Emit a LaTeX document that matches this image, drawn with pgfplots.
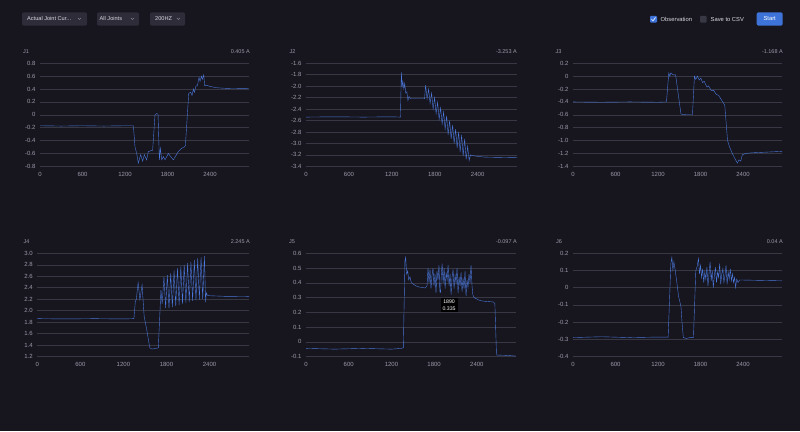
\documentclass[border=0pt]{standalone}
\usepackage{fontspec}
\setmainfont{Liberation Sans}
\usepackage{pgfplots}
\pgfplotsset{compat=1.18}
\definecolor{bgc}{HTML}{17161F}
\definecolor{gridc}{HTML}{383845}
\definecolor{txtc}{HTML}{9A9AA8}
\definecolor{linec}{HTML}{4A78DC}
\definecolor{btnc}{HTML}{2D2C38}
\definecolor{bluec}{HTML}{3E74DA}
\definecolor{lightc}{HTML}{DADAE2}

\pgfplotsset{
  jpanel/.style={
    scale only axis, anchor=south west,
    xmin=0, xmax=2950,
    axis line style={draw=none},
    tick style={draw=none},
    ymajorgrids, grid style={gridc, line width=0.5pt},
    xtick={0,600,1200,1800,2400},
    xticklabels={0,600,1200,1800,2400},
    xticklabel style={font=\fontsize{6}{7}\selectfont, text=txtc, yshift=-2pt},
    yticklabel style={font=\fontsize{6}{7}\selectfont, text=txtc, xshift=-1pt},
    /pgf/number format/assume math mode=true,
    /pgf/number format/1000 sep={},
    no markers,
    cycle list={{linec, line width=0.65pt, mark=none}},
  }
}
\newcommand{\ptitle}[2]{%
  \node[anchor=west, text=txtc, font=\fontsize{5.5}{6}\selectfont, inner sep=0pt] at #1 {#2};}
\newcommand{\pval}[2]{%
  \node[anchor=east, text=txtc, font=\fontsize{5.5}{6}\selectfont, inner sep=0pt] at #1 {#2};}

\begin{document}
\begin{tikzpicture}
\useasboundingbox (0,0) rectangle (800pt,431pt);
\fill[bgc] (0,0) rectangle (800pt,431pt);

% top bar
\fill[btnc, rounded corners=2pt] (22pt,418.7pt) rectangle (87pt,405.3pt);
\node[anchor=west, text=lightc, font=\fontsize{5.6}{6}\selectfont, inner sep=0pt] at (27pt,412pt) {Actual Joint Cur...};
\draw[txtc, line width=0.4pt] (77.8pt,413pt) -- (79.3pt,411.5pt) -- (80.8pt,413pt);
\fill[btnc, rounded corners=2pt] (97pt,418.7pt) rectangle (139pt,405.3pt);
\node[anchor=west, text=lightc, font=\fontsize{5.6}{6}\selectfont, inner sep=0pt] at (99.5pt,412pt) {All Joints};
\draw[txtc, line width=0.4pt] (130.8pt,413pt) -- (132.3pt,411.5pt) -- (133.8pt,413pt);
\fill[btnc, rounded corners=2pt] (150pt,418.7pt) rectangle (185pt,405.3pt);
\node[anchor=west, text=lightc, font=\fontsize{5.6}{6}\selectfont, inner sep=0pt] at (155pt,412pt) {200HZ};
\draw[txtc, line width=0.4pt] (176.8pt,413pt) -- (178.3pt,411.5pt) -- (179.8pt,413pt);

\fill[bluec, rounded corners=1pt] (650pt,415.2pt) rectangle (657pt,408.3pt);
\draw[white, line width=0.6pt] (651.5pt,411.8pt) -- (653pt,410.2pt) -- (655.6pt,413.6pt);
\node[anchor=west, text=lightc, font=\fontsize{5.8}{6}\selectfont, inner sep=0pt] at (660.5pt,411.8pt) {Observation};
\fill[gridc, rounded corners=1pt] (700pt,415.2pt) rectangle (706.7pt,408.3pt);
\node[anchor=west, text=lightc, font=\fontsize{5.8}{6}\selectfont, inner sep=0pt] at (710.5pt,411.8pt) {Save to CSV};
\fill[bluec, rounded corners=2pt] (756.7pt,418.7pt) rectangle (782.7pt,405.3pt);
\node[text=white, font=\fontsize{5.8}{6}\selectfont, inner sep=0pt] at (769.7pt,412pt) {Start};

% panel titles
\ptitle{(23pt,379.3pt)}{J1}     \pval{(250pt,379.3pt)}{0.405 A}
\ptitle{(289.5pt,379.3pt)}{J2}  \pval{(517pt,379.3pt)}{-3.253 A}
\ptitle{(555.5pt,379.3pt)}{J3}  \pval{(783pt,379.3pt)}{-1.168 A}
\ptitle{(23.5pt,189.3pt)}{J4}   \pval{(250pt,189.3pt)}{2.245 A}
\ptitle{(289pt,189.3pt)}{J5}    \pval{(517pt,189.3pt)}{-0.097 A}
\ptitle{(556pt,189.3pt)}{J6}    \pval{(783pt,189.3pt)}{0.04 A}

% J1
\begin{axis}[jpanel, at={(40pt,264.7pt)}, width=209pt, height=103pt,
  ymin=-0.8, ymax=0.8,
  ytick={-0.8,-0.6,-0.4,-0.2,0,0.2,0.4,0.6,0.8},
  yticklabels={-0.8,-0.6,-0.4,-0.2,0,0.2,0.4,0.6,0.8}]
\addplot coordinates {(0,-0.17) (300,-0.175) (600,-0.17) (900,-0.175) (1200,-0.17) (1318,-0.17)
 (1341,-0.50) (1365,-0.60) (1388,-0.75) (1421,-0.62) (1449,-0.72) (1472,-0.62) (1505,-0.70)
 (1529,-0.57) (1560,-0.56) (1590,-0.55) (1623,0.00) (1647,0.02) (1666,0.01) (1685,-0.70)
 (1699,-0.52) (1718,-0.70) (1741,-0.65) (1765,-0.70) (1812,-0.60) (1845,-0.65) (1882,-0.70)
 (1915,-0.64) (1953,-0.57) (2000,-0.52) (2037,-0.50) (2052,-0.48) (2099,0.33) (2127,0.35)
 (2146,0.30) (2165,0.40) (2179,0.35) (2202,0.45) (2221,0.45) (2245,0.58) (2259,0.52)
 (2278,0.60) (2292,0.55) (2311,0.62) (2325,0.45) (2353,0.46) (2400,0.44) (2494,0.42)
 (2635,0.41) (2950,0.405)};
\end{axis}

% J2
\begin{axis}[jpanel, at={(306pt,264.7pt)}, width=211pt, height=103pt,
  ymin=-3.4, ymax=-1.6,
  ytick={-3.4,-3.2,-3.0,-2.8,-2.6,-2.4,-2.2,-2.0,-1.8,-1.6},
  yticklabels={-3.4,-3.2,-3.0,-2.8,-2.6,-2.4,-2.2,-2.0,-1.8,-1.6}]
\addplot coordinates {(0,-2.54) (400,-2.535) (800,-2.54) (1200,-2.535) (1320,-2.54)
 (1333,-1.76) (1345,-2.00) (1355,-1.92) (1368,-2.05) (1380,-1.95) (1395,-2.12) (1410,-2.10)
 (1425,-2.25) (1440,-2.18) (1460,-2.22) (1500,-2.22) (1600,-2.22) (1658,-2.22) (1672,-1.98)
 (1693,-2.22) (1714,-2.05) (1735,-2.30) (1756,-2.12) (1777,-2.40) (1798,-2.20) (1819,-2.48)
 (1840,-2.28) (1861,-2.58) (1882,-2.38) (1903,-2.66) (1924,-2.45) (1945,-2.75) (1966,-2.52)
 (1987,-2.85) (2008,-2.60) (2029,-2.92) (2050,-2.68) (2071,-3.00) (2092,-2.75) (2113,-3.08)
 (2134,-2.80) (2155,-3.15) (2176,-2.85) (2197,-3.22) (2218,-2.92) (2239,-3.28) (2260,-3.05)
 (2281,-3.30) (2300,-3.20) (2320,-3.21) (2360,-3.22) (2500,-3.24) (2950,-3.25)};
\end{axis}

% J3
\begin{axis}[jpanel, at={(573pt,264.7pt)}, width=209pt, height=103pt,
  ymin=-1.4, ymax=0.2,
  ytick={-1.4,-1.2,-1.0,-0.8,-0.6,-0.4,-0.2,0,0.2},
  yticklabels={-1.4,-1.2,-1.0,-0.8,-0.6,-0.4,-0.2,0,0.2}]
\addplot coordinates {(0,-0.40) (400,-0.405) (800,-0.40) (1200,-0.405) (1319,-0.40)
 (1352,0.05) (1366,0.00) (1380,0.05) (1414,0.02) (1448,0.02) (1524,-0.59) (1600,-0.60)
 (1686,-0.60) (1714,0.00) (1733,-0.05) (1757,0.00) (1781,-0.06) (1805,-0.03) (1829,-0.10)
 (1852,-0.08) (1890,-0.17) (1914,-0.15) (1948,-0.22) (1986,-0.22) (2019,-0.28) (2057,-0.30)
 (2090,-0.36) (2114,-0.40) (2142,-0.45) (2181,-1.00) (2210,-1.10) (2248,-1.20) (2295,-1.30)
 (2319,-1.35) (2343,-1.30) (2367,-1.32) (2391,-1.22) (2438,-1.20) (2533,-1.19) (2724,-1.18)
 (2950,-1.168)};
\end{axis}

% J4
\begin{axis}[jpanel, at={(37.3pt,74.5pt)}, width=211.7pt, height=103.2pt,
  ymin=1.2, ymax=3.0,
  ytick={1.2,1.4,1.6,1.8,2.0,2.2,2.4,2.6,2.8,3.0},
  yticklabels={1.2,1.4,1.6,1.8,2.0,2.2,2.4,2.6,2.8,3.0}]
\addplot coordinates {(0,1.86) (400,1.855) (800,1.86) (1200,1.855) (1346,1.86)
 (1365,2.15) (1380,2.20) (1405,2.49) (1430,2.19) (1460,2.45) (1489,1.90) (1520,1.70)
 (1568,1.35) (1600,1.33) (1686,1.35) (1723,2.36) (1740,2.12)
 (1765,2.59) (1788,2.05) (1812,2.62) (1835,2.04) (1859,2.65) (1882,2.06) (1906,2.70)
 (1929,2.08) (1953,2.74) (1976,2.10) (2000,2.77) (2023,2.12) (2047,2.80) (2070,2.14)
 (2094,2.83) (2117,2.15) (2141,2.85) (2164,2.17) (2188,2.88) (2211,2.18) (2235,2.91)
 (2258,2.19) (2282,2.93) (2305,2.20) (2329,2.95) (2345,2.15) (2355,2.31) (2370,2.27)
 (2400,2.26) (2600,2.25) (2950,2.245)};
\end{axis}

% J5
\begin{axis}[jpanel, at={(306pt,74.5pt)}, width=210pt, height=103.2pt,
  ymin=-0.1, ymax=0.6,
  ytick={-0.1,0,0.1,0.2,0.3,0.4,0.5,0.6},
  yticklabels={-0.1,0,0.1,0.2,0.3,0.4,0.5,0.6}]
\addplot coordinates {(0,-0.045) (400,-0.05) (800,-0.045) (1200,-0.05) (1340,-0.045)
 (1367,-0.04) (1390,0.55) (1400,0.573) (1414,0.46) (1428,0.48) (1442,0.42) (1460,0.44)
 (1480,0.40) (1510,0.39) (1540,0.38) (1581,0.372) (1676,0.365)
 (1700,0.38) (1714,0.50) (1728,0.40) (1742,0.49) (1756,0.36) (1770,0.45) (1784,0.50)
 (1798,0.38) (1812,0.46) (1826,0.33) (1840,0.48) (1854,0.42) (1868,0.52) (1880,0.34)
 (1890,0.335) (1900,0.45) (1912,0.53) (1926,0.40) (1940,0.50) (1954,0.36) (1968,0.47)
 (1982,0.42) (1996,0.52) (2010,0.38) (2024,0.46) (2038,0.32) (2052,0.44) (2066,0.49)
 (2080,0.36) (2094,0.45) (2108,0.40) (2122,0.50) (2136,0.33) (2150,0.44) (2164,0.38)
 (2178,0.47) (2192,0.34) (2206,0.43) (2220,0.36) (2234,0.48) (2248,0.31) (2262,0.42)
 (2276,0.37) (2290,0.46) (2304,0.40) (2318,0.52) (2332,0.38) (2343,0.32) (2360,0.30)
 (2400,0.29) (2440,0.28) (2500,0.275) (2630,0.27) (2653,0.26) (2676,-0.09) (2800,-0.092)
 (2950,-0.097)};
\node[fill=black, text=white, font=\fontsize{5.2}{7}\selectfont, align=center, inner sep=2pt] at (axis cs:2010,0.25) {1890\\0.335};
\end{axis}

% J6
\begin{axis}[jpanel, at={(573pt,74.5pt)}, width=209pt, height=103.2pt,
  ymin=-0.4, ymax=0.2,
  ytick={-0.4,-0.3,-0.2,-0.1,0,0.1,0.2},
  yticklabels={-0.4,-0.3,-0.2,-0.1,0,0.1,0.2}]
\addplot coordinates {(0,-0.29) (400,-0.285) (800,-0.29) (1200,-0.287) (1343,-0.287)
 (1381,0.14) (1395,0.177) (1410,0.103) (1424,0.15) (1443,0.10) (1467,0.026) (1490,-0.05)
 (1524,-0.11) (1538,-0.197) (1557,-0.29) (1600,-0.295) (1650,-0.29) (1700,-0.29)
 (1733,0.10) (1750,0.12) (1771,0.17) (1785,0.08) (1800,0.13) (1815,0.06) (1830,0.11)
 (1845,0.03) (1860,0.09) (1875,0.05) (1890,0.12) (1905,0.01) (1920,0.08) (1935,0.15)
 (1950,0.04) (1965,0.10) (1980,0.00) (1995,0.07) (2010,0.12) (2025,0.03) (2040,0.09)
 (2055,0.06) (2070,0.14) (2085,0.02) (2100,0.08) (2115,0.11) (2130,0.03) (2145,0.07)
 (2160,0.13) (2175,0.02) (2190,0.09) (2205,0.05) (2220,0.11) (2235,0.04) (2250,0.08)
 (2265,0.03) (2280,0.06) (2295,0.00) (2310,0.05) (2330,0.03) (2350,0.045) (2950,0.04)};
\end{axis}
\end{tikzpicture}
\end{document}
